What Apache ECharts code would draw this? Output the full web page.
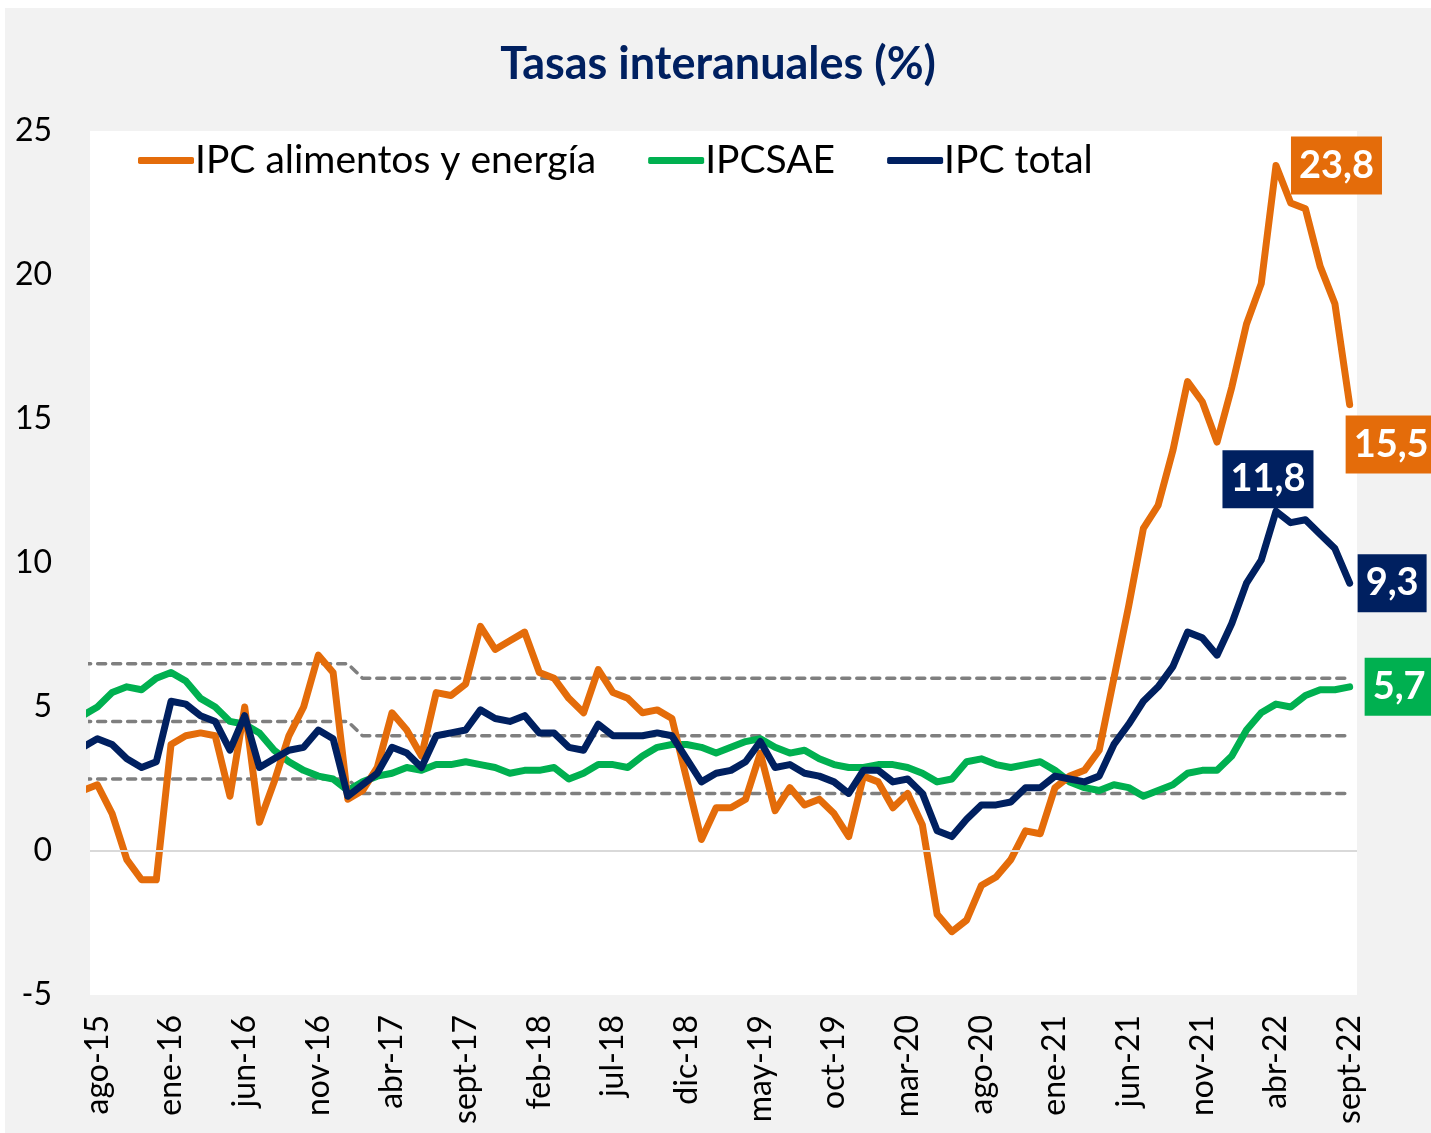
<!DOCTYPE html>
<html>
<head>
<meta charset="utf-8">
<script src="https://cdn.jsdelivr.net/npm/echarts@6/dist/echarts.min.js"></script>
<style>
  html, body { margin: 0; padding: 0; background: #fff; }
  #chart { position: absolute; left: 5px; top: 8px; width: 1426px; height: 1125px; background: #f2f2f2; }
</style>
</head>
<body>
<div id="chart"></div>
<script>
// meses: jul-15 (fuera del eje, solo se ve el trozo recortado) hasta sept-22
var startIdx = -1;
var tickLabels = ['ago-15', 'ene-16', 'jun-16', 'nov-16', 'abr-17', 'sept-17', 'feb-18', 'jul-18', 'dic-18',
        'may-19', 'oct-19', 'mar-20', 'ago-20', 'ene-21', 'jun-21', 'nov-21', 'abr-22', 'sept-22'];
var tickIdx = [0, 5, 10, 15, 20, 25, 30, 35, 40, 45, 50, 55, 60, 65, 70, 75, 80, 85];

// IPC alimentos y energía
var ipcAlimEnergia = [2.1,
        2.3, 1.3, -0.3, -1.0, -1.0, 3.7, 4.0, 4.1, 4.0, 1.9,
        5.0, 1.0, 2.4, 4.0, 5.0, 6.8, 6.2, 1.8, 2.1, 2.9,
        4.8, 4.2, 3.3, 5.5, 5.4, 5.8, 7.8, 7.0, 7.3, 7.6,
        6.2, 6.0, 5.3, 4.8, 6.3, 5.5, 5.3, 4.8, 4.9, 4.6,
        2.5, 0.4, 1.5, 1.5, 1.8, 3.4, 1.4, 2.2, 1.6, 1.8,
        1.3, 0.5, 2.6, 2.4, 1.5, 2.0, 0.9, -2.2, -2.8, -2.4,
        -1.2, -0.9, -0.3, 0.7, 0.6, 2.2, 2.6, 2.8, 3.5, 6.0,
        8.5, 11.2, 12.0, 13.9, 16.3, 15.6, 14.2, 16.1, 18.3, 19.7,
        23.8, 22.5, 22.3, 20.3, 19.0, 15.5];

// IPCSAE
var ipcSAE = [4.7,
        5.0, 5.5, 5.7, 5.6, 6.0, 6.2, 5.9, 5.3, 5.0, 4.5,
        4.4, 4.1, 3.5, 3.1, 2.8, 2.6, 2.5, 2.1, 2.4, 2.6,
        2.7, 2.9, 2.8, 3.0, 3.0, 3.1, 3.0, 2.9, 2.7, 2.8,
        2.8, 2.9, 2.5, 2.7, 3.0, 3.0, 2.9, 3.3, 3.6, 3.7,
        3.7, 3.6, 3.4, 3.6, 3.8, 3.9, 3.6, 3.4, 3.5, 3.2,
        3.0, 2.9, 2.9, 3.0, 3.0, 2.9, 2.7, 2.4, 2.5, 3.1,
        3.2, 3.0, 2.9, 3.0, 3.1, 2.8, 2.4, 2.2, 2.1, 2.3,
        2.2, 1.9, 2.1, 2.3, 2.7, 2.8, 2.8, 3.3, 4.2, 4.8,
        5.1, 5.0, 5.4, 5.6, 5.6, 5.7];

// IPC total
var ipcTotal = [3.6,
        3.9, 3.7, 3.2, 2.9, 3.1, 5.2, 5.1, 4.7, 4.5, 3.5,
        4.7, 2.9, 3.2, 3.5, 3.6, 4.2, 3.9, 1.9, 2.3, 2.7,
        3.6, 3.4, 2.9, 4.0, 4.1, 4.2, 4.9, 4.6, 4.5, 4.7,
        4.1, 4.1, 3.6, 3.5, 4.4, 4.0, 4.0, 4.0, 4.1, 4.0,
        3.2, 2.4, 2.7, 2.8, 3.1, 3.8, 2.9, 3.0, 2.7, 2.6,
        2.4, 2.0, 2.8, 2.8, 2.4, 2.5, 2.0, 0.7, 0.5, 1.1,
        1.6, 1.6, 1.7, 2.2, 2.2, 2.6, 2.5, 2.4, 2.6, 3.7,
        4.4, 5.2, 5.7, 6.4, 7.6, 7.4, 6.8, 7.9, 9.3, 10.1,
        11.8, 11.4, 11.5, 11.0, 10.5, 9.3];

// meta de inflación y rango (cambia entre dic-16 y ene-17)
var metaIdx = [-1, 17, 18, 85];
var metaSup = [6.5, 6.5, 6, 6];
var metaCentro = [4.5, 4.5, 4, 4];
var metaInf = [2.5, 2.5, 2, 2];

var cNaranja = '#E46C0A';
var cVerde = '#00B050';
var cAzul = '#002060';
var fuente = 'Lato, "Open Sans", sans-serif';

var chart = echarts.init(document.getElementById('chart'));

function etiqueta(color, extra) {
        var l = {
                show: true,
                formatter: function (p) { return String(p.value[1]).replace('.', ','); },
                color: '#fff',
                backgroundColor: color,
                fontFamily: fuente,
                fontWeight: 'bold',
                fontSize: 38,
                lineHeight: 40,
                padding: [9, 8]
        };
        for (var k in extra) l[k] = extra[k];
        return l;
}

// arma los pares [indice, valor] y pone etiquetas en los puntos pedidos
function serieDatos(vals, labels) {
        return vals.map(function (v, k) {
                var idx = k + startIdx;
                if (labels[idx]) {
                        return {
                                value: [idx, v],
                                symbol: 'circle',
                                symbolSize: 2,
                                itemStyle: { color: 'rgba(0,0,0,0)' },
                                label: labels[idx]
                        };
                }
                return { value: [idx, v], symbol: 'none' };
        });
}

function metaDatos(vals) {
        return vals.map(function (v, k) { return [metaIdx[k], v]; });
}

var dashStyle = { color: '#7f7f7f', width: 3.5, type: [8, 7], cap: 'round' };

var lineaBase = {
        type: 'line',
        showSymbol: true,
        clip: true,
        animation: false
};

var option = {
        backgroundColor: '#f2f2f2',
        animation: false,
        title: {
                text: 'Tasas interanuales (%)',
                left: 'center',
                top: 29,
                textStyle: { fontFamily: fuente, fontWeight: 'bold', fontSize: 45, color: cAzul }
        },
        legend: {
                data: ['IPC alimentos y energía', 'IPCSAE', 'IPC total'],
                left: 128,
                top: 128,
                icon: 'roundRect',
                itemWidth: 56,
                itemHeight: 7,
                itemGap: 52,
                textStyle: { fontFamily: fuente, fontSize: 39, color: '#000', padding: [0, 0, 0, -4] }
        },
        grid: {
                left: 85,
                right: 74,
                top: 123,
                bottom: 138,
                show: true,
                backgroundColor: '#fff',
                borderWidth: 0,
                outerBoundsMode: 'none'
        },
        xAxis: {
                type: 'value',
                min: -0.5,
                max: 85.5,
                splitLine: { show: false },
                axisLine: { show: false, onZero: false },
                axisTick: { show: false },
                axisLabel: {
                        customValues: tickIdx,
                        formatter: function (v) { return tickLabels[tickIdx.indexOf(v)] || ''; },
                        rotate: 90,
                        margin: 20,
                        fontFamily: fuente,
                        fontSize: 32,
                        color: '#000'
                }
        },
        yAxis: {
                type: 'value',
                min: -5,
                max: 25,
                interval: 5,
                splitLine: { show: false },
                axisLine: { show: false },
                axisTick: { show: false },
                axisLabel: { margin: 38, fontFamily: fuente, fontSize: 32, color: '#000' }
        },
        series: [
                Object.assign({}, lineaBase, {
                        name: 'meta-inf',
                        symbol: 'none',
                        data: metaDatos(metaInf),
                        lineStyle: dashStyle,
                        markLine: {
                                silent: true,
                                symbol: 'none',
                                label: { show: false },
                                lineStyle: { color: '#d9d9d9', width: 2, type: 'solid' },
                                data: [{ yAxis: 0 }]
                        }
                }),
                Object.assign({}, lineaBase, { name: 'meta-centro', symbol: 'none', data: metaDatos(metaCentro), lineStyle: dashStyle }),
                Object.assign({}, lineaBase, { name: 'meta-sup', symbol: 'none', data: metaDatos(metaSup), lineStyle: dashStyle }),
                Object.assign({}, lineaBase, {
                        name: 'IPCSAE',
                        color: cVerde,
                        data: serieDatos(ipcSAE, {
                                85: etiqueta(cVerde, { position: 'right', distance: 14 })
                        }),
                        lineStyle: { color: cVerde, width: 7, cap: 'round', join: 'round' }
                }),
                Object.assign({}, lineaBase, {
                        name: 'IPC alimentos y energía',
                        color: cNaranja,
                        data: serieDatos(ipcAlimEnergia, {
                                80: etiqueta(cNaranja, { position: 'right', distance: 14 }),
                                85: etiqueta(cNaranja, { position: 'right', distance: 0, offset: [-5, 40] })
                        }),
                        lineStyle: { color: cNaranja, width: 7, cap: 'round', join: 'round' }
                }),
                Object.assign({}, lineaBase, {
                        name: 'IPC total',
                        color: cAzul,
                        data: serieDatos(ipcTotal, {
                                80: etiqueta(cAzul, { position: 'top', distance: 2, offset: [-8, 0] }),
                                85: etiqueta(cAzul, { position: 'right', distance: 7 })
                        }),
                        lineStyle: { color: cAzul, width: 7, cap: 'round', join: 'round' }
                })
        ]
};

chart.setOption(option);
</script>
</body>
</html>
